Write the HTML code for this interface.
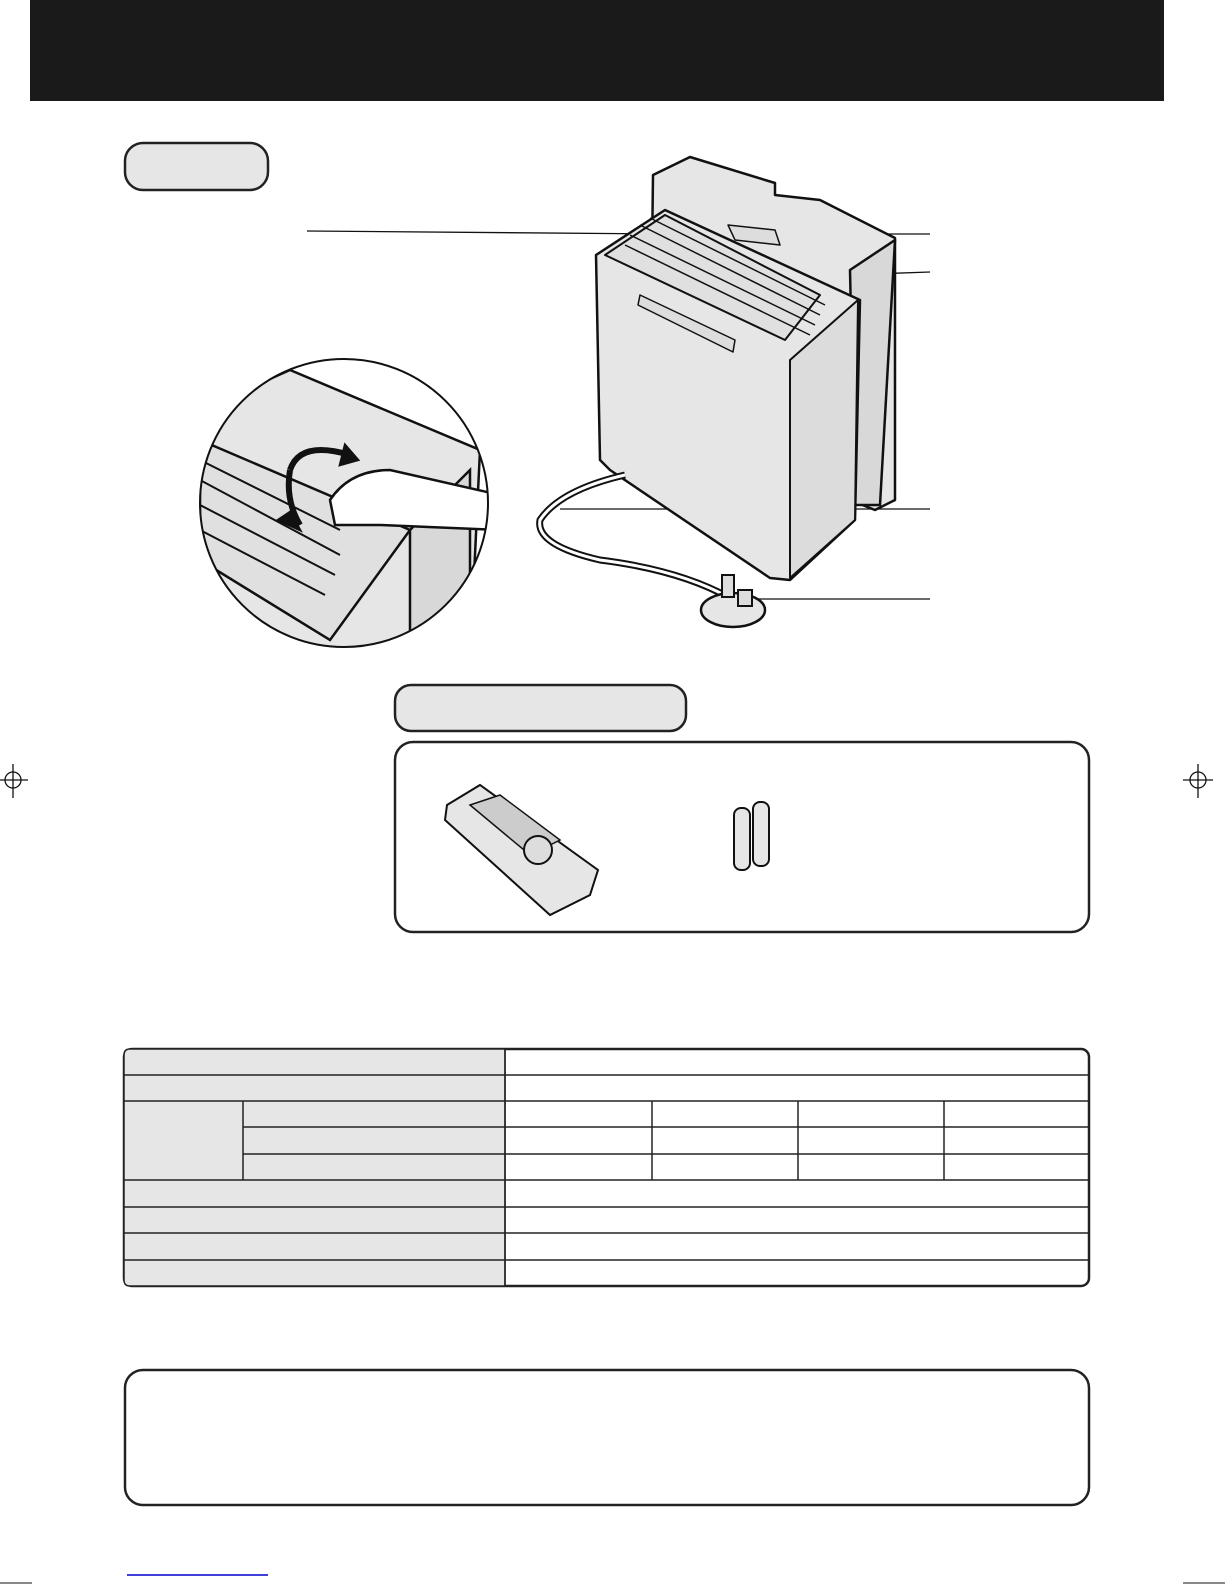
<!DOCTYPE html>
<html><head><style>body{margin:0;background:#fff}svg{display:block}</style></head><body>
<svg width="1225" height="1585" viewBox="0 0 1225 1585" xmlns="http://www.w3.org/2000/svg" font-family="Liberation Sans, sans-serif">
<rect x="30" y="0" width="1134" height="101" fill="#1a1a1a"/>
<rect x="125" y="143" width="143" height="47" rx="18" fill="#e6e6e6" stroke="#222" stroke-width="2.5"/>
<!-- leader lines -->
<g stroke="#111" stroke-width="1.3">
<line x1="307" y1="231" x2="662" y2="234"/>
<line x1="748" y1="234" x2="930" y2="234"/>
<line x1="760" y1="278" x2="930" y2="272"/>
<line x1="560" y1="509" x2="930" y2="509"/>
<line x1="735" y1="599" x2="930" y2="599"/>
</g>
<!-- unit -->
<g stroke="#111" stroke-width="2.5" stroke-linejoin="round">
<path d="M653 175 L690 157 L775 183 L775 195 L820 200 L895 238 L895 500 L875 510 L650 420 Z" fill="#e6e6e6"/>
<path d="M850 270 L895 240 L880 505 L855 505 Z" fill="#d8d8d8"/>
<path d="M596 255 L665 210 L860 300 L855 520 L790 580 L770 578 L610 470 L600 460 Z" fill="#e6e6e6"/>
<path d="M605 255 L665 215 L820 295 L785 340 Z" fill="#e0e0e0" stroke-width="2"/>
<path d="M790 360 L858 300 L855 520 L790 578 Z" fill="#dcdcdc" stroke-width="2"/>
<path d="M640 295 L735 340 L733 352 L638 305 Z" fill="#ddd" stroke-width="1.5"/>
<path d="M728 225 L775 230 L780 245 L735 240 Z" fill="#ddd" stroke-width="1.5"/>
</g>
<g stroke="#111" stroke-width="1.5" fill="none">
<path d="M625 245 L810 335"/><path d="M630 235 L815 325"/><path d="M640 225 L820 315"/><path d="M650 218 L825 305"/>
</g>
<!-- cord -->
<path d="M625 475 Q560 490 540 520 Q535 545 600 560 Q680 570 730 598" fill="none" stroke="#111" stroke-width="7"/>
<path d="M625 475 Q560 490 540 520 Q535 545 600 560 Q680 570 730 598" fill="none" stroke="#fff" stroke-width="3"/>
<ellipse cx="733" cy="610" rx="32" ry="17" fill="#e6e6e6" stroke="#111" stroke-width="2.5"/>
<rect x="722" y="575" width="12" height="22" fill="#ddd" stroke="#111" stroke-width="2"/>
<rect x="738" y="590" width="14" height="16" fill="#ddd" stroke="#111" stroke-width="2"/>
<!-- circle inset -->
<defs><clipPath id="c"><circle cx="344" cy="503" r="144"/></clipPath></defs>
<g clip-path="url(#c)" stroke="#111" stroke-width="2.5">
<rect x="190" y="350" width="310" height="310" fill="#fff" stroke="none"/>
<path d="M200 410 L290 370 L480 450 L470 660 L200 660 Z" fill="#e6e6e6"/>
<path d="M200 440 L410 530 L330 640 L200 560 Z" fill="#e0e0e0"/>
<path d="M200 460 L340 530 M200 480 L340 555 M200 505 L335 575 M200 530 L325 595" fill="none" stroke-width="2"/>
<path d="M410 530 L470 470 L470 660 L410 660 Z" fill="#d8d8d8"/>
<path d="M330 500 Q350 470 390 470 L500 495 L500 530 L380 525 L335 525 Z" fill="#fff"/>
<path d="M290 470 Q300 440 350 455" fill="none" stroke-width="6"/>
<path d="M290 470 Q285 500 300 525" fill="none" stroke-width="6"/>
<path d="M345 445 L358 460 L340 465 Z" fill="#111"/>
<path d="M278 520 L300 530 L290 512 Z" fill="#111"/>
</g>
<circle cx="344" cy="503" r="144" fill="none" stroke="#111" stroke-width="2"/>
<!-- accessories -->
<rect x="395" y="685" width="291" height="46" rx="16" fill="#e6e6e6" stroke="#222" stroke-width="2.5"/>
<rect x="395" y="742" width="694" height="190" rx="18" fill="#fff" stroke="#222" stroke-width="2.5"/>
<g stroke="#111" stroke-width="2">
<path d="M447 805 L480 785 L598 870 L590 895 L550 915 L445 820 Z" fill="#e6e6e6"/>
<path d="M470 805 L500 795 L560 840 L530 855 Z" fill="#ccc" stroke-width="1.5"/>
<circle cx="538" cy="850" r="14" fill="#ddd"/>
<rect x="734" y="808" width="16" height="62" rx="7" fill="#e6e6e6"/>
<rect x="753" y="802" width="16" height="64" rx="7" fill="#e6e6e6"/>
</g>
<!-- table -->
<g stroke="#222" stroke-width="1.5">
<rect x="124" y="1049" width="965" height="237" rx="8" fill="#fff" stroke-width="2.5"/>
<path d="M130 1049 H505 V1286 H130 Q124 1286 124 1280 V1055 Q124 1049 130 1049Z" fill="#e6e6e6"/>
<line x1="505" y1="1049" x2="505" y2="1286"/>
<line x1="243" y1="1101" x2="243" y2="1180"/>
<line x1="124" y1="1075" x2="1089" y2="1075"/>
<line x1="124" y1="1101" x2="1089" y2="1101"/>
<line x1="243" y1="1127" x2="1089" y2="1127"/>
<line x1="243" y1="1154" x2="1089" y2="1154"/>
<line x1="124" y1="1180" x2="1089" y2="1180"/>
<line x1="124" y1="1207" x2="1089" y2="1207"/>
<line x1="124" y1="1233" x2="1089" y2="1233"/>
<line x1="124" y1="1260" x2="1089" y2="1260"/>
<line x1="652" y1="1101" x2="652" y2="1180"/>
<line x1="798" y1="1101" x2="798" y2="1180"/>
<line x1="944" y1="1101" x2="944" y2="1180"/>
</g>
<rect x="125" y="1370" width="964" height="135" rx="18" fill="#fff" stroke="#222" stroke-width="2.5"/>
<line x1="127" y1="1575" x2="268" y2="1575" stroke="#00c" stroke-width="1.5"/>
<line x1="0" y1="1583" x2="32" y2="1583" stroke="#111"/>
<line x1="1183" y1="1583" x2="1225" y2="1583" stroke="#111"/>
<g stroke="#111" fill="none" stroke-width="1.3">
<circle cx="13" cy="780" r="8"/><line x1="0" y1="780" x2="28" y2="780"/><line x1="13" y1="764" x2="13" y2="798"/>
<circle cx="1198" cy="780" r="8"/><line x1="1183" y1="780" x2="1213" y2="780"/><line x1="1198" y1="764" x2="1198" y2="798"/>
</g>
</svg>
</body></html>
